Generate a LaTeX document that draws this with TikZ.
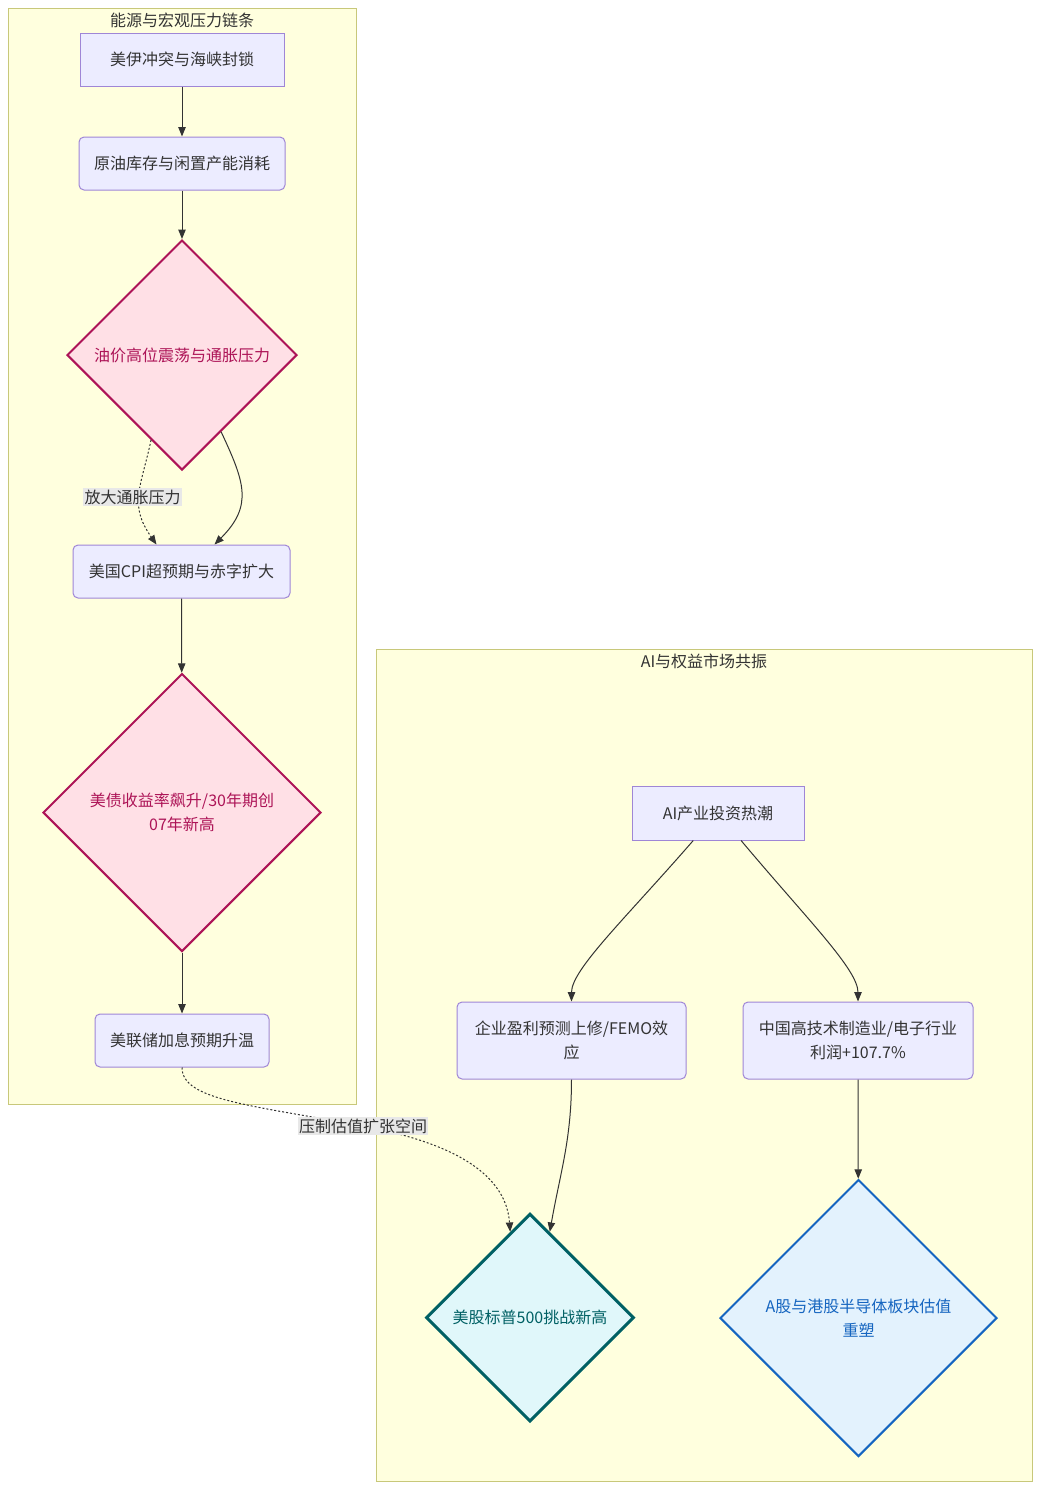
\documentclass[tikz,border=0pt]{standalone}
\usepackage{fontspec}
\setmainfont{Noto Sans CJK SC}
\usetikzlibrary{shapes.geometric,arrows.meta,positioning,calc}
\definecolor{clfill}{HTML}{FFFFDE}
\definecolor{clline}{HTML}{C8C87A}
\definecolor{boxfill}{HTML}{ECECFF}
\definecolor{boxline}{HTML}{9F86D6}
\definecolor{txtgray}{HTML}{333333}
\definecolor{lblgray}{HTML}{E8E8E8}
\definecolor{pinkfill}{HTML}{FFE0E6}
\definecolor{pinkline}{HTML}{AD1457}
\definecolor{tealfill}{HTML}{E0F7FA}
\definecolor{tealline}{HTML}{006064}
\definecolor{bluefill}{HTML}{E3F2FD}
\definecolor{blueline}{HTML}{1565C0}

\begin{document}
\begin{tikzpicture}[x=0.75pt,y=-0.75pt,
	font=\fontsize{12}{18}\selectfont, text=txtgray,
	cluster/.style={draw=clline,fill=clfill,line width=0.75pt},
	box/.style={draw=boxline,fill=boxfill,line width=0.75pt,inner sep=0pt,align=center},
	rbox/.style={box,rounded corners=3.75pt},
	dia/.style={diamond,inner sep=0pt,align=center,aspect=1},
	pinkdia/.style={dia,draw=pinkline,fill=pinkfill,text=pinkline,line width=1.5pt},
	tealdia/.style={dia,draw=tealline,fill=tealfill,text=tealline,line width=2.25pt},
	bluedia/.style={dia,draw=blueline,fill=bluefill,text=blueline,line width=1.5pt},
	link/.style={draw=txtgray,line width=0.75pt,-{Triangle[length=7pt,width=5.5pt]}},
	dotlink/.style={link,dash pattern=on 1.5pt off 1.5pt},
	lbl/.style={fill=lblgray,inner sep=1pt,text=txtgray}
]
	\useasboundingbox (0,0) rectangle (1040,1490);
	\fill[white] (0,0) rectangle (1040,1490);

	% clusters
	\draw[cluster] (8,8) rectangle (356,1104);
	\draw[cluster] (376,649) rectangle (1032,1481);
	\node (T1) at (182,20) {能源与宏观压力链条};
	\node (T2) at (704,661) {AI与权益市场共振};

	% energy chain
	\node (n1)[box,minimum width=153pt,minimum height=39.75pt] at (182,59.5) {美伊冲突与海峡封锁};
	\node (n2)[rbox,minimum width=154.5pt,minimum height=39.75pt] at (182,163.5) {原油库存与闲置产能消耗};
	\node (d1)[pinkdia,minimum width=172.5pt,minimum height=172.5pt] at (182,355) {油价高位震荡与通胀压力};
	\node (n3)[rbox,minimum width=162.75pt,minimum height=39.75pt] at (181.5,571.5) {美国CPI超预期与赤字扩大};
	\node (d2)[pinkdia,minimum width=208.5pt,minimum height=208.5pt] at (182,812.5) {美债收益率飙升/30年期创\\07年新高};
	\node (n4)[rbox,minimum width=130.5pt,minimum height=39.75pt] at (182,1040.5) {美联储加息预期升温};

	% AI chain
	\node (a1)[box,minimum width=129pt,minimum height=40.5pt] at (718,813) {AI产业投资热潮};
	\node (a2)[rbox,minimum width=171.75pt,minimum height=57.75pt] at (571.5,1040.5) {企业盈利预测上修/FEMO效\\应};
	\node (a3)[rbox,minimum width=172.5pt,minimum height=57.75pt] at (858,1040.5) {中国高技术制造业/电子行业\\利润+107.7\%};
	\node (d3)[tealdia,minimum width=156pt,minimum height=156pt] at (530,1317.5) {美股标普500挑战新高};
	\node (d4)[bluedia,minimum width=207.75pt,minimum height=207.75pt] at (858.5,1318) {A股与港股半导体板块估值\\重塑};

	\draw[link] (n1) -- (n2);
	\draw[link] (n2) -- (d1);
	\draw[dotlink] (d1.250) to[out=258,in=125,looseness=1.2] node[lbl,pos=0.52,xshift=-5pt] (L1) {放大通胀压力} ($(n3.north)+(-25,0)$);
	\draw[link] (d1.297) to[out=295,in=45,looseness=1.25] ($(n3.north)+(33,0)$);
	\draw[link] (n3) -- (d2);
	\draw[link] (d2) -- (n4);
	\draw[dotlink] (n4.south) .. controls (182,1100) and (250,1105) .. (363,1126)
		node[lbl] (L2) {压制估值扩张空间}
		.. controls (420,1137) and (505,1160) .. (d3.103);

	\draw[link] (a1.228) to[out=229,in=90,out distance=78pt,in distance=24pt] (a2.north);
	\draw[link] (a1.310) to[out=310,in=90,out distance=78pt,in distance=24pt] (a3.north);
	\draw[link] (a2.south) to[out=270,in=80] (d3.77);
	\draw[link] (a3) -- (d4);
\end{tikzpicture}
\end{document}
